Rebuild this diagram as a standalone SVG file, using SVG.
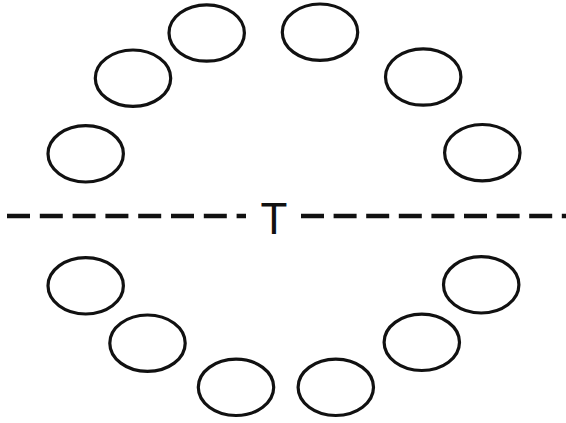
<svg xmlns="http://www.w3.org/2000/svg" width="566" height="423" viewBox="0 0 566 423">
<style>
.node ellipse{fill:none;stroke:#111;stroke-width:3.2}
.axis{stroke:#111;stroke-width:4.5;stroke-dasharray:23 9.8;fill:none}
.lbl{font-family:"Liberation Sans",Arial,sans-serif;font-size:44px;fill:#111;text-anchor:middle}
</style>
<rect width="566" height="423" fill="#fff"/>
<g id="connectors">
<line class="axis" x1="7" y1="216" x2="246" y2="216"/>
<line class="axis" x1="301" y1="216" x2="566" y2="216" style="stroke-dasharray:23 9.6"/>
</g>
<g id="label-T"><text class="lbl" x="274" y="234">T</text></g>
<g id="n1" class="node"><ellipse cx="206.7" cy="33" rx="37.7" ry="28.2"/></g>
<g id="n2" class="node"><ellipse cx="133" cy="78.2" rx="37.7" ry="28.2"/></g>
<g id="n3" class="node"><ellipse cx="85.7" cy="153.8" rx="37.7" ry="28.2"/></g>
<g id="n4" class="node"><ellipse cx="320" cy="32.2" rx="37.7" ry="28.2"/></g>
<g id="n5" class="node"><ellipse cx="423.2" cy="77" rx="37.7" ry="28.2"/></g>
<g id="n6" class="node"><ellipse cx="482.3" cy="152.7" rx="37.7" ry="28.2"/></g>
<g id="n7" class="node"><ellipse cx="85.7" cy="285.8" rx="37.7" ry="28.2"/></g>
<g id="n8" class="node"><ellipse cx="147.5" cy="343.2" rx="37.7" ry="28.2"/></g>
<g id="n9" class="node"><ellipse cx="236" cy="387.3" rx="37.7" ry="28.2"/></g>
<g id="n10" class="node"><ellipse cx="335.8" cy="387.3" rx="37.7" ry="28.2"/></g>
<g id="n11" class="node"><ellipse cx="421.8" cy="342.3" rx="37.7" ry="28.2"/></g>
<g id="n12" class="node"><ellipse cx="481.2" cy="284.8" rx="37.7" ry="28.2"/></g>
</svg>
